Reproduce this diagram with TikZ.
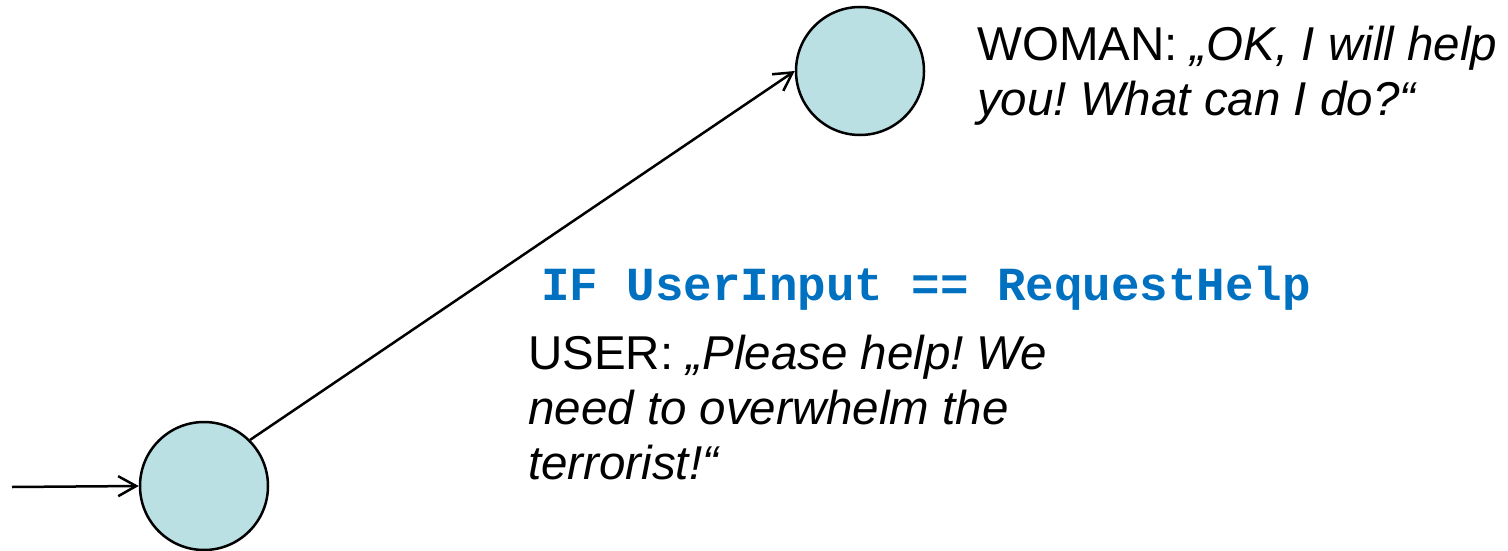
\documentclass[tikz,border=0pt]{standalone}
\usepackage{fontspec}
\setmainfont{Liberation Sans}
\newfontfamily\codefont{Liberation Mono}
\usetikzlibrary{arrows.meta}
\definecolor{statefill}{RGB}{186,224,228}
\definecolor{condblue}{RGB}{0,112,192}
\frenchspacing
\tikzset{
  state/.style={circle, draw=black, line width=2.5pt, fill=statefill,
                minimum size=128pt, inner sep=0pt},
  trans/.style={line width=2.5pt, -{Straight Barb[length=18pt,width=20pt,line width=2.5pt]}},
  % multi-line nodes are placed by the baseline of their last line
  speech/.style={anchor=base west, inner sep=0pt, align=left,
                 font=\fontsize{47.5}{55}\selectfont},
  cond/.style={anchor=base west, inner sep=0pt, text=condblue,
               font=\codefont\bfseries\fontsize{47.5}{55}\selectfont}
}
\begin{document}
\begin{tikzpicture}[x=1pt,y=-1pt]
\useasboundingbox (0,0) rectangle (1508,551);
% states
\node[state] (start) at (204,486) {};
\node[state] (help)  at (860,71) {};
% initial marker
\coordinate (entry) at (12,487);
\draw[trans] (entry) -- (start.west);
% transition on the user's request
\draw[trans] (start.45) -- (help.west);
% utterances and guard
\node[speech] (woman) at (977,115)
  {WOMAN: \textit{„OK, I will help}\\\textit{you! What can I do?“}};
\node[cond] (guard) at (541,300) {IF UserInput == RequestHelp};
\node[speech] (user) at (528,479)
  {USER: \textit{„Please help! We}\\\textit{need to overwhelm the}\\\textit{terrorist!“}};
\end{tikzpicture}
\end{document}
